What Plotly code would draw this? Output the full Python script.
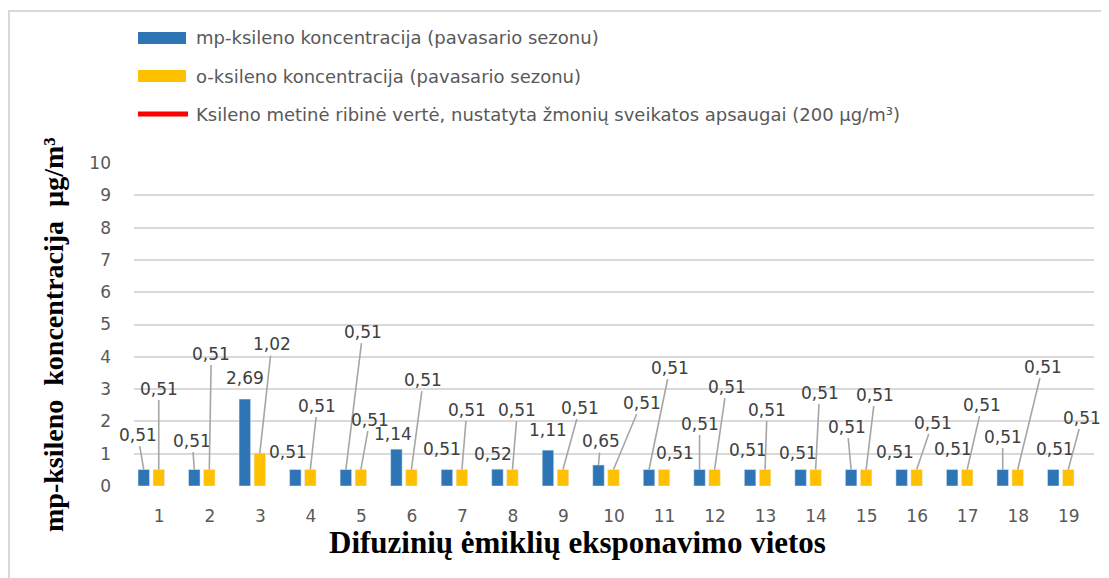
import plotly.graph_objects as go

# data
vietos = list(range(1, 20))
mp_ksilenas = [0.51, 0.51, 2.69, 0.51, 0.51, 1.14, 0.51, 0.52, 1.11, 0.65,
               0.51, 0.51, 0.51, 0.51, 0.51, 0.51, 0.51, 0.51, 0.51]
o_ksilenas = [0.51, 0.51, 1.02, 0.51, 0.51, 0.51, 0.51, 0.51, 0.51, 0.51,
              0.51, 0.51, 0.51, 0.51, 0.51, 0.51, 0.51, 0.51, 0.51]
ribine_verte = 200

mp_name = "mp-ksileno koncentracija (pavasario sezonu)"
o_name = "o-ksileno koncentracija (pavasario sezonu)"
red_name = "Ksileno metinė ribinė vertė, nustatyta žmonių sveikatos apsaugai (200 µg/m³)"

# label placement (pixel offsets of each value label from its bar top, leader line on/off)
mp_label_pos = [(-6, -35, 1), (-2, -29, 1), (0, -21, 0), (-7, -18, 0), (17, -138, 1),
                (-3, -15, 0), (-5, -21, 0), (-4, -15, 0), (0, -20, 0), (2, -24, 1),
                (21, -102, 1), (0, -46, 1), (-2, -20, 0), (-3, -17, 0), (-4, -43, 1),
                (-7, -18, 0), (1, -21, 0), (0, -33, 1), (2, -21, 0)]
o_label_pos = [(0, -81, 1), (2, -116, 1), (12, -109, 1), (7, -64, 1), (9, -50, 1),
               (12, -90, 1), (5, -60, 1), (5, -60, 1), (17, -62, 1), (28, -67, 1),
               (11, -17, 0), (12, -83, 1), (2, -60, 1), (4, -77, 1), (9, -75, 1),
               (16, -47, 1), (15, -65, 1), (25, -103, 1), (14, -52, 1)]

W, H = 1109, 578
# the page body adds an 8px margin, so the figure is laid out 8px up/left
L, R, T, B = 126, 23, 155, 100
PW, PH = W - L - R, H - T - B


# positions below are given in screen pixels of the reference
def px(x):
    return (x - 134) / PW


def py(y):
    return (486 - y) / PH


BLUE = "#2e75b6"
GOLD = "#ffc000"
GRID = "#d9d9d9"
SANS = "DejaVu Sans"
SERIF = "Liberation Serif"

fig = go.Figure()
bar_w = 11.5 / (PW / 19)
fig.add_trace(go.Bar(x=vietos, y=mp_ksilenas, name=mp_name, marker_color=BLUE,
                     width=bar_w, offset=-21.25 / (PW / 19), showlegend=False))
fig.add_trace(go.Bar(x=vietos, y=o_ksilenas, name=o_name, marker_color=GOLD,
                     width=bar_w, offset=-6.25 / (PW / 19), showlegend=False))
fig.add_trace(go.Scatter(x=vietos, y=[ribine_verte] * len(vietos), mode="lines",
                         name=red_name, line=dict(color="red", width=4), showlegend=False))


def fmt(v):
    return f"{v:.2f}".replace(".", ",")


annotations = []
for vals, pos, shift in [(mp_ksilenas, mp_label_pos, -15.5), (o_ksilenas, o_label_pos, -0.5)]:
    for x, v, (dx, dy, lead) in zip(vietos, vals, pos):
        annotations.append(dict(
            x=x, y=v, xref="x", yref="y", xshift=shift, text=fmt(v),
            showarrow=True, arrowhead=0, arrowwidth=1.6, standoff=0,
            arrowcolor="#a6a6a6" if lead else "rgba(0,0,0,0)",
            ax=dx, ay=dy, font=dict(family=SANS, size=17, color="#404040")))

# axis titles
annotations.append(dict(x=px(577), y=py(542), xref="paper", yref="paper", showarrow=False,
                        xanchor="center", yanchor="middle",
                        text="<b>Difuzinių ėmiklių eksponavimo vietos</b>",
                        font=dict(family=SERIF, size=31, color="black")))
annotations.append(dict(x=px(53), y=py(335), xref="paper", yref="paper", showarrow=False,
                        xanchor="center", yanchor="middle", textangle=-90,
                        text="<b>mp-ksileno\u00a0 koncentracija\u00a0 µg/m³</b>",
                        font=dict(family=SERIF, size=28, color="black")))

# legend (drawn by hand to get the wide swatches)
shapes = [
    dict(type="rect", xref="paper", yref="paper", x0=px(9), x1=px(1130), y0=py(11), y1=py(600),
         line=dict(color=GRID, width=2), fillcolor="rgba(0,0,0,0)", layer="below"),
    dict(type="rect", xref="paper", yref="paper", x0=px(138), x1=px(186), y0=py(32), y1=py(44),
         line=dict(width=0), fillcolor=BLUE),
    dict(type="rect", xref="paper", yref="paper", x0=px(138), x1=px(186), y0=py(70), y1=py(82),
         line=dict(width=0), fillcolor=GOLD),
    dict(type="line", xref="paper", yref="paper", x0=px(138), x1=px(188), y0=py(114), y1=py(114),
         line=dict(color="red", width=5)),
]
for name, yy in [(mp_name, 38), (o_name, 76), (red_name, 114)]:
    annotations.append(dict(x=px(194), y=py(yy), xref="paper", yref="paper", showarrow=False,
                            xanchor="left", yanchor="middle", text=name,
                            font=dict(family=SANS, size=18, color="#595959")))

fig.update_layout(
    width=W, height=H,
    margin=dict(l=L, r=R, t=T, b=B),
    paper_bgcolor="white", plot_bgcolor="white",
    barmode="overlay",
    annotations=annotations,
    shapes=shapes,
    xaxis=dict(range=[0.5, 19.5], tickmode="array", tickvals=vietos, showgrid=False,
               zeroline=False, showline=False, ticks="", ticklabelstandoff=18,
               tickfont=dict(family=SANS, size=17, color="#595959")),
    yaxis=dict(range=[0, 10], dtick=1, showgrid=True, gridcolor=GRID, gridwidth=2,
               zeroline=False, showline=False, ticks="", ticklabelstandoff=22,
               tickfont=dict(family=SANS, size=17, color="#595959")),
)

fig.write_html("out.html")
